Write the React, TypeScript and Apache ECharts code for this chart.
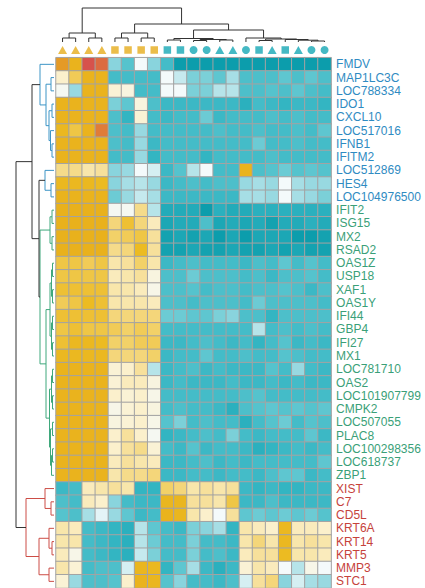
import React, { useEffect, useRef } from "react";
import * as echarts from "echarts";

const genes = [
  "FMDV", "MAP1LC3C", "LOC788334", "IDO1", "CXCL10", "LOC517016", "IFNB1", "IFITM2",
  "LOC512869", "HES4", "LOC104976500", "IFIT2", "ISG15", "MX2", "RSAD2", "OAS1Z",
  "USP18", "XAF1", "OAS1Y", "IFI44", "GBP4", "IFI27", "MX1", "LOC781710", "OAS2",
  "LOC101907799", "CMPK2", "LOC507055", "PLAC8", "LOC100298356", "LOC618737", "ZBP1",
  "XIST", "C7", "CD5L", "KRT6A", "KRT14", "KRT5", "MMP3", "STC1",
];
// 0 = blue cluster, 1 = green cluster, 2 = red cluster
const geneCluster = [
  0, 0, 0, 0, 0, 0, 0, 0, 0, 0, 0,
  1, 1, 1, 1, 1, 1, 1, 1, 1, 1, 1, 1, 1, 1, 1, 1, 1, 1, 1, 1, 1,
  2, 2, 2, 2, 2, 2, 2, 2,
];

const samples = ["S1", "S2", "S3", "S4", "S5", "S6", "S7", "S8", "S9", "S10", "S11", "S12", "S13", "S14", "S15", "S16", "S17", "S18", "S19", "S20", "S21"];
const sampleGroup = ["o", "o", "o", "o", "o", "o", "o", "o", "t", "t", "t", "t", "t", "t", "t", "t", "t", "t", "t", "t", "t"];
const sampleShape = [
  "triangle", "triangle", "triangle", "triangle", "rect", "rect", "rect", "rect",
  "rect", "rect", "circle", "circle", "triangle", "triangle", "circle", "rect",
  "triangle", "rect", "triangle", "circle", "circle",
];

const expression: number[][] = [
  [2.2, 1.8, 3.0, 2.7, -0.7, -1.1, 0.0, -0.7, -1.3, -2, -2, -2, -2, -2, -2, -2, -2, -2, -2, -2, -2],
  [0.5, 1.2, 1.8, 1.8, -1.3, -1.3, -1.3, -1.3, 0.0, -0.3, -0.8, -0.8, -1.0, -0.5, -1.2, -1.2, -1.2, -1.0, -1.2, -1.0, -1.2],
  [0.1, -0.6, 1.8, 1.8, 0.4, 0.3, -1.3, -1.3, 0.0, 0.0, -0.8, -0.8, -0.4, -0.4, -1.2, -1.2, -1.1, -1.2, -1.0, -1.2, -1.3],
  [1.8, 1.8, 1.8, 1.8, -0.8, -1.0, 0.3, -1.2, -1.4, -1.4, -1.4, -1.4, -1.4, -1.4, -1.6, -1.3, -1.4, -1.5, -1.4, -1.4, -1.5],
  [1.8, 1.8, 1.8, 1.8, -1.2, -1.5, 0.4, -1.3, -1.4, -1.3, -1.3, -0.9, -1.4, -1.3, -1.3, -1.3, -1.2, -1.3, -1.2, -1.3, -1.3],
  [1.6, 1.3, 1.8, 2.5, -1.2, -1.3, -0.6, -1.3, -1.3, -1.3, -1.3, -1.3, -1.2, -1.3, -1.3, -1.2, -1.3, -1.3, -1.2, -1.3, -1.0],
  [1.8, 1.8, 1.8, 1.8, -1.2, -1.3, -0.6, -1.4, -1.3, -1.3, -1.3, -1.3, -1.3, -1.3, -1.3, -0.9, -1.3, -1.3, -1.2, -1.3, -1.3],
  [1.8, 1.8, 1.8, 1.8, -1.3, -1.3, -0.6, -1.5, -1.3, -1.3, -1.3, -1.5, -1.3, -1.3, -1.3, -1.3, -1.2, -1.3, -1.3, -1.3, -1.3],
  [0.9, 0.9, 0.7, 0.8, -0.7, -0.6, 0.0, -0.2, -1.4, -1.1, -0.4, 0.0, -1.3, -1.3, 1.8, -1.2, -1.1, -0.9, -1.1, -1.0, -1.1],
  [1.6, 1.6, 1.6, 1.5, -0.7, -0.5, -0.4, -0.6, -1.4, -1.3, -1.2, -1.3, -1.2, -1.2, -0.6, -0.5, -0.6, 0.0, -0.5, -0.6, -0.6],
  [1.8, 1.8, 1.8, 1.8, -0.9, -0.6, -0.3, -0.5, -1.4, -1.4, -1.4, -1.4, -1.4, -1.4, -0.5, -0.5, -0.6, 0.0, -0.5, -0.6, -0.8],
  [1.9, 1.9, 1.9, 1.9, 0.1, 0.1, 0.9, -0.4, -1.7, -1.7, -1.7, -2.0, -1.6, -1.7, -1.7, -1.6, -1.6, -1.6, -1.6, -1.6, -1.6],
  [1.9, 1.9, 1.9, 1.9, 1.0, 1.4, 1.0, 0.6, -1.8, -1.7, -1.7, -1.2, -1.8, -1.7, -1.8, -1.7, -1.9, -1.7, -1.7, -1.6, -1.7],
  [1.9, 1.9, 1.9, 1.9, 1.1, 1.2, 1.3, 0.8, -1.9, -1.8, -1.9, -1.8, -2.0, -1.8, -2.0, -1.8, -1.8, -1.8, -2.0, -2.0, -1.9],
  [1.9, 1.9, 1.9, 1.9, 0.9, 1.0, 1.5, 0.8, -1.9, -1.9, -1.8, -1.9, -1.9, -1.8, -1.9, -1.9, -1.8, -1.9, -1.8, -1.9, -1.9],
  [1.3, 1.3, 1.2, 1.3, 0.7, 0.8, 1.1, 0.7, -1.4, -1.3, -1.2, -1.3, -1.3, -1.3, -1.4, -1.2, -1.3, -1.0, -1.3, -1.1, -1.3],
  [1.3, 1.3, 1.3, 1.3, 0.6, 0.7, 0.8, 0.3, -1.2, -1.2, -0.9, -1.2, -1.2, -1.2, -1.3, -1.2, -1.4, -1.2, -1.2, -1.1, -1.3],
  [1.4, 1.4, 1.4, 1.4, 0.7, 0.7, 0.6, 0.2, -1.2, -1.2, -1.1, -1.3, -1.2, -1.2, -1.3, -1.2, -1.2, -1.1, -1.2, -1.4, -1.2],
  [1.2, 1.3, 1.5, 1.4, 0.7, 0.7, 0.7, 0.6, -1.2, -1.2, -1.3, -1.2, -1.2, -1.2, -1.3, -0.9, -1.2, -1.2, -1.2, -1.2, -1.3],
  [1.4, 1.4, 1.4, 1.4, 1.0, 1.0, 1.0, 1.0, -0.9, -0.9, -1.0, -1.0, -0.8, -0.7, -1.2, -1.2, -1.5, -1.2, -1.2, -1.2, -1.2],
  [1.3, 1.4, 1.3, 1.3, 1.2, 1.1, 1.2, 1.1, -1.3, -1.3, -1.3, -1.3, -1.3, -1.3, -1.3, -0.4, -1.3, -1.2, -1.3, -1.2, -1.3],
  [1.4, 1.6, 1.6, 1.5, 1.1, 1.1, 1.2, 1.2, -1.4, -1.4, -1.3, -1.2, -1.3, -1.4, -1.3, -1.5, -1.3, -1.1, -1.4, -1.3, -1.4],
  [1.6, 1.6, 1.6, 1.6, 1.0, 1.0, 1.0, 1.1, -1.4, -1.3, -1.3, -1.0, -1.3, -1.3, -1.2, -1.3, -1.3, -1.1, -1.2, -1.3, -1.3],
  [1.8, 1.8, 1.8, 1.8, 0.4, 0.5, 0.8, -0.4, -1.4, -1.3, -1.2, -1.4, -1.3, -1.4, -1.4, -1.4, -1.1, -1.3, -0.6, -1.3, -1.4],
  [1.8, 1.8, 1.8, 1.8, 0.4, 0.6, 0.6, 0.3, -1.4, -1.3, -1.4, -1.4, -1.4, -1.3, -1.4, -1.4, -1.3, -1.4, -1.3, -1.4, -1.4],
  [1.8, 1.8, 1.8, 1.8, 0.5, 0.4, 0.5, 0.2, -1.3, -1.3, -1.3, -1.3, -1.3, -1.3, -1.2, -1.1, -1.3, -1.3, -1.3, -1.3, -1.3],
  [1.8, 1.8, 1.8, 1.8, 0.2, 0.4, 0.5, 0.3, -1.3, -1.2, -1.3, -1.3, -1.4, -1.6, -1.2, -1.1, -1.0, -1.1, -1.0, -1.1, -1.0],
  [1.8, 1.8, 1.8, 1.8, 0.3, 0.4, 0.5, 0.2, -1.1, -0.8, -1.3, -1.2, -1.3, -1.3, -1.6, -1.3, -1.1, -0.9, -1.3, -1.1, -1.2],
  [1.8, 1.8, 1.8, 1.8, 0.5, 0.8, 0.5, 0.1, -1.5, -1.4, -1.3, -1.2, -1.3, -0.8, -1.3, -1.4, -1.3, -1.3, -1.3, -1.0, -1.4],
  [1.8, 1.8, 1.8, 1.8, 0.5, 0.8, 0.9, 0.4, -1.3, -1.4, -1.1, -1.4, -1.3, -1.3, -1.4, -1.6, -1.5, -1.4, -1.3, -1.4, -1.3],
  [1.8, 1.8, 1.8, 1.8, 0.6, 0.8, 0.7, 0.6, -1.4, -1.4, -1.3, -1.2, -1.4, -1.3, -1.4, -1.3, -1.3, -1.3, -1.3, -1.3, -1.0],
  [1.8, 1.8, 1.8, 1.8, 0.7, 0.9, 0.9, 1.0, -1.4, -1.4, -1.3, -1.3, -1.4, -1.3, -1.3, -1.4, -1.2, -1.0, -1.0, -1.4, -1.3],
  [-1.4, -1.3, 0.6, 0.7, 0.8, 0.7, -1.5, -1.5, 1.1, 1.0, 0.7, 0.8, 0.7, 0.8, -1.4, -1.5, -1.4, -1.5, -1.5, -1.4, -1.4],
  [-1.2, -1.3, 0.6, 0.5, -0.7, -1.3, -1.4, -1.4, 1.7, 1.7, 0.8, 0.8, 0.7, 1.3, -1.4, -1.4, -1.2, -1.4, -1.4, -1.4, -1.4],
  [-1.1, -1.2, -0.5, -0.1, -0.6, -1.0, -1.4, -1.3, 1.8, 1.7, 0.7, 0.5, 0.0, 0.8, -1.0, -0.9, -1.0, -0.9, -1.0, -0.9, -1.1],
  [0.7, 0.6, -1.3, -1.4, -1.5, -1.6, -0.4, -1.0, -1.3, -1.4, -0.8, -0.7, -0.5, -1.5, 0.7, 0.6, 0.5, 1.6, 0.6, 0.6, 0.5],
  [0.7, 0.7, -1.3, -1.4, -1.5, -1.6, -0.4, -0.9, -1.3, -1.3, -0.8, -1.3, -1.3, -1.4, 0.7, 1.0, 0.7, 1.6, 0.7, 0.8, 0.7],
  [0.6, 0.2, -1.3, -1.4, -1.5, -1.6, -0.3, -0.8, -1.3, -1.3, -0.8, -1.3, -1.2, -1.4, 0.6, 0.8, 0.8, 1.5, 0.7, 0.7, 0.6],
  [0.7, 0.4, -1.3, -1.2, -1.2, -0.2, 1.7, 1.6, -1.5, -1.0, -0.5, -1.4, -1.6, -1.4, 0.4, 0.7, 0.6, 0.0, -0.4, 0.2, 0.0],
  [0.4, -0.6, -1.2, -1.2, -1.1, 0.5, 1.8, 1.7, -1.1, -0.7, -1.3, -1.3, -1.4, -1.2, -0.2, 0.8, 1.0, -0.7, -0.2, -0.5, -0.6],
];

// Row dendrogram merges: [childA, childB, height, colour key]; new node ids start at 40
const rowMerges: [number, number, number, string][] = [
  [1, 2, 3, "b"], [3, 4, 2, "b"], [6, 7, 2, "b"], [5, 42, 3.5, "b"], [41, 43, 5, "b"],
  [40, 44, 8, "b"], [0, 45, 14, "b"],
  [9, 10, 3, "b"], [8, 47, 9, "b"],
  [11, 12, 2, "g"], [13, 14, 2, "g"], [49, 50, 4, "g"],
  [15, 16, 1.5, "g"], [17, 18, 1.5, "g"], [52, 53, 2.5, "g"], [19, 20, 1.5, "g"],
  [21, 22, 1.5, "g"], [55, 56, 2.5, "g"], [54, 57, 4, "g"],
  [23, 24, 1.5, "g"], [25, 26, 1.5, "g"], [59, 60, 2.5, "g"], [27, 28, 1.5, "g"],
  [29, 30, 1.5, "g"], [63, 31, 2.5, "g"], [62, 64, 3.5, "g"], [61, 65, 4.5, "g"],
  [58, 66, 8, "g"], [51, 67, 14, "g"],
  [48, 68, 15, "k"], [46, 69, 22, "k"],
  [33, 34, 3, "r"], [32, 71, 9, "r"], [36, 37, 2, "r"], [35, 73, 5, "r"],
  [38, 39, 5, "r"], [74, 75, 15, "r"], [72, 76, 28, "r"],
  [70, 77, 38, "k"],
];

// Column dendrogram merges; new node ids start at 21
const colMerges: [number, number, number][] = [
  [0, 1, 4], [2, 3, 4], [21, 22, 9],
  [4, 5, 4], [6, 7, 4], [24, 25, 9],
  [8, 9, 2], [10, 11, 1.5], [12, 13, 2], [28, 29, 2.5], [27, 30, 3.5],
  [15, 16, 1.5], [19, 20, 1], [18, 33, 1.8], [17, 34, 2.5], [32, 35, 3], [14, 36, 4],
  [31, 37, 12], [26, 38, 18], [23, 39, 34],
];

const heatColors = [
  "#0c9dac", "#33b5c2", "#5ec6d0", "#a6dee5", "#f4fafb", "#fbf0cc",
  "#f4d67a", "#ecbb22", "#e8ae1a", "#e07c38", "#d6524c",
];
const dendroColors: Record<string, string> = { b: "#3d95c6", g: "#3fa87c", r: "#cc4d46", k: "#333333" };
const labelColors = ["#2f8bc2", "#3a9f78", "#c6423b"];
const groupColors: Record<string, string> = { o: "#e6ad1d", t: "#17a7b5" };

function layoutTree(n: number, merges: (number | string)[][]) {
  const pos: number[] = [];
  const hs: number[] = [];
  for (let i = 0; i < n; i++) { pos.push(i); hs.push(0); }
  const items: any[] = [];
  merges.forEach((m) => {
    const a = m[0] as number, b = m[1] as number, h = m[2] as number;
    const key = (m[3] as string) || "k";
    items.push({ value: [pos[a], hs[a], pos[b], hs[b], h], color: dendroColors[key] });
    pos.push((pos[a] + pos[b]) / 2);
    hs.push(h);
  });
  return items;
}

export default function App() {
  const ref = useRef<HTMLDivElement>(null);
  useEffect(() => {
    if (!ref.current) return;
    const chart = echarts.init(ref.current, null, { renderer: "svg" });
    const heatData: number[][] = [];
    expression.forEach((row, r) => row.forEach((v, c) => heatData.push([c, r, v])));
    const rowItems = layoutTree(genes.length, rowMerges);
    const colItems = layoutTree(samples.length, colMerges);

    const HL = 56, HT = 57.7, HW = 275.1, HH = 531.4;

    const markerData = samples.map((s, i) => ({
      value: [i, 0.5],
      symbol: sampleShape[i],
      symbolSize: sampleShape[i] === "triangle" ? [9, 8] : sampleShape[i] === "rect" ? 7.5 : 8,
      itemStyle: { color: groupColors[sampleGroup[i]] },
    }));

    const option: any = {
      animation: false,
      backgroundColor: "#ffffff",
      grid: [
        { left: HL, top: HT, width: HW, height: HH },
        { left: HL, top: 8, width: HW, height: 34 },
        { left: 14, top: HT, width: 40, height: HH },
        { left: HL, top: 45, width: HW, height: 10 },
      ],
      xAxis: [
        { type: "category", data: samples, gridIndex: 0, show: false },
        { type: "value", gridIndex: 1, min: -0.5, max: samples.length - 0.5, show: false },
        { type: "value", gridIndex: 2, min: 0, max: 40, inverse: true, show: false },
        { type: "value", gridIndex: 3, min: -0.5, max: samples.length - 0.5, show: false },
      ],
      yAxis: [
        {
          type: "category", data: genes, gridIndex: 0, inverse: true, position: "right",
          axisLine: { show: false }, axisTick: { show: false }, splitLine: { show: false },
          axisLabel: {
            margin: 5,
            interval: 0,
            fontSize: 12,
            fontFamily: "Liberation Sans, Arial, sans-serif",
            formatter: (v: string, i: number) => `{c${geneCluster[i]}|${v}}`,
            rich: {
              c0: { color: labelColors[0], fontSize: 12, fontFamily: "Liberation Sans, Arial, sans-serif" },
              c1: { color: labelColors[1], fontSize: 12, fontFamily: "Liberation Sans, Arial, sans-serif" },
              c2: { color: labelColors[2], fontSize: 12, fontFamily: "Liberation Sans, Arial, sans-serif" },
            },
          },
        },
        { type: "value", gridIndex: 1, min: 0, max: 34, show: false },
        { type: "value", gridIndex: 2, min: -0.5, max: genes.length - 0.5, inverse: true, show: false },
        { type: "value", gridIndex: 3, min: 0, max: 1, show: false },
      ],
      visualMap: {
        show: false, type: "continuous", min: -2, max: 3, seriesIndex: 0,
        inRange: { color: heatColors },
      },
      series: [
        {
          type: "heatmap", xAxisIndex: 0, yAxisIndex: 0, data: heatData,
          itemStyle: { borderColor: "#a3a3a3", borderWidth: 1 },
          emphasis: { disabled: true },
        },
        {
          type: "custom", xAxisIndex: 1, yAxisIndex: 1, silent: true,
          data: colItems,
          renderItem: (params: any, api: any) => {
            const it = colItems[params.dataIndex];
            const [pa, ha, pb, hb, h] = it.value;
            const pts = [api.coord([pa, ha]), api.coord([pa, h]), api.coord([pb, h]), api.coord([pb, hb])];
            return { type: "polyline", shape: { points: pts }, style: { stroke: "#333333", fill: "none", lineWidth: 1 } };
          },
        },
        {
          type: "custom", xAxisIndex: 2, yAxisIndex: 2, silent: true,
          data: rowItems,
          renderItem: (params: any, api: any) => {
            const it = rowItems[params.dataIndex];
            const [pa, ha, pb, hb, h] = it.value;
            const pts = [api.coord([ha, pa]), api.coord([h, pa]), api.coord([h, pb]), api.coord([hb, pb])];
            return { type: "polyline", shape: { points: pts }, style: { stroke: it.color, fill: "none", lineWidth: 1 } };
          },
        },
        {
          type: "scatter", xAxisIndex: 3, yAxisIndex: 3, silent: true,
          data: markerData,
        },
      ],
    };
    chart.setOption(option);
    return () => chart.dispose();
  }, []);
  return (
    <div
      ref={ref}
      style={{ position: "absolute", left: 0, top: 0, width: 425, height: 588, background: "#fff" }}
    />
  );
}
